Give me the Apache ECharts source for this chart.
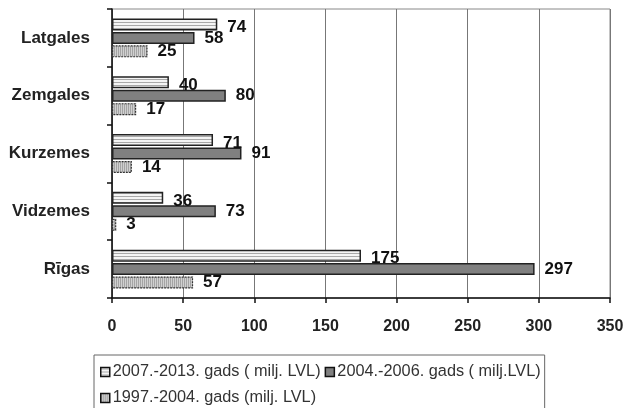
<!DOCTYPE html>
<html><head><meta charset="utf-8">
<script src="https://cdn.jsdelivr.net/npm/echarts@6/dist/echarts.min.js"></script>
<style>html,body{margin:0;padding:0;background:#fff}#c{width:632px;height:408px}</style>
</head><body><div id="c"></div>
<script>
const categories = ['Rīgas', 'Vidzemes', 'Kurzemes', 'Zemgales', 'Latgales'];
const seriesNames = ['2007.-2013. gads ( milj. LVL)', '2004.-2006. gads ( milj.LVL)', '1997.-2004. gads (milj. LVL)'];
const s2007 = [175, 36, 71, 40, 74];
const s2004 = [297, 73, 91, 80, 58];
const s1997 = [57, 3, 14, 17, 25];
const xTicks = [0, 50, 100, 150, 200, 250, 300, 350];

function stripes() {
  const c = document.createElement('canvas'); c.width = 4; c.height = 3;
  const g = c.getContext('2d');
  g.fillStyle = '#f4f4f4'; g.fillRect(0, 0, 4, 3);
  g.fillStyle = '#a8a8a8'; g.fillRect(0, 1, 4, 1);
  return c;
}
function dots() {
  const c = document.createElement('canvas'); c.width = 2; c.height = 2;
  const g = c.getContext('2d');
  g.fillStyle = '#d0d0d0'; g.fillRect(0, 0, 2, 2);
  g.fillStyle = '#a4a4a4'; g.fillRect(0, 0, 1, 2);
  return c;
}
const fillA = { image: stripes(), repeat: 'repeat' };
const fillC = { image: dots(), repeat: 'repeat' };

const labelBase = { show: true, position: 'right', distance: 10, fontSize: 17, fontWeight: 'bold', color: '#111', fontFamily: 'Liberation Sans, Arial, sans-serif' };

const chart = echarts.init(document.getElementById('c'), null, { renderer: 'canvas' });
chart.setOption({
  animation: false,
  backgroundColor: '#fff',
  grid: { left: 112, right: 22, top: 9, bottom: 110, show: true, borderColor: '#888', borderWidth: 1 },
  legend: {
    left: 94, top: 355, width: 460,
    padding: [6, 4, 6, 6],
    borderColor: '#666', borderWidth: 1,
    itemWidth: 9, itemHeight: 9, itemGap: 4,
    textStyle: { fontSize: 16.3, color: '#333', fontFamily: 'Liberation Sans, Arial, sans-serif', lineHeight: 22, padding: [0, 0, 0, -2] },
    data: [
      { name: seriesNames[0], icon: 'rect', itemStyle: { color: fillA, borderColor: '#111', borderWidth: 1.5 } },
      { name: seriesNames[1], icon: 'rect', itemStyle: { color: '#808080', borderColor: '#111', borderWidth: 1.5 } },
      { name: seriesNames[2], icon: 'rect', itemStyle: { color: fillC, borderColor: '#111', borderWidth: 1.5 } }
    ]
  },
  xAxis: {
    type: 'value', min: 0, max: 350, interval: 50,
    axisLine: { show: true, lineStyle: { color: '#111', width: 1.5 } },
    axisTick: { show: true, length: 5, lineStyle: { color: '#111', width: 1.5 } },
    splitLine: { show: true, lineStyle: { color: '#777', width: 1 } },
    axisLabel: { margin: 21, fontSize: 16, fontWeight: 'bold', color: '#222', fontFamily: 'Liberation Sans, Arial, sans-serif',
      formatter: v => xTicks.indexOf(v) >= 0 ? String(v) : '' }
  },
  yAxis: {
    type: 'category', data: categories,
    axisLine: { show: true, lineStyle: { color: '#111', width: 1.5 } },
    axisTick: { show: true, length: 5, inside: false, lineStyle: { color: '#111', width: 1.5 } },
    axisLabel: { margin: 22, fontSize: 17, fontWeight: 'bold', color: '#222', fontFamily: 'Liberation Sans, Arial, sans-serif' }
  },
  series: [
    { name: seriesNames[0], type: 'bar', data: s2007, barWidth: 12, barGap: '12%',
      itemStyle: { color: fillA, borderColor: '#222', borderWidth: 1.5 },
      label: Object.assign({}, labelBase, { offset: [0, 3] }) },
    { name: seriesNames[1], type: 'bar', data: s2004, barWidth: 12, barGap: '12%',
      itemStyle: { color: '#808080', borderColor: '#222', borderWidth: 1.5 },
      label: Object.assign({}, labelBase) },
    { name: seriesNames[2], type: 'bar', data: s1997, barWidth: 12, barGap: '12%',
      itemStyle: { color: fillC, borderColor: '#333', borderWidth: 1.2, borderType: [2, 1] },
      label: Object.assign({}, labelBase) }
  ]
});
</script></body></html>
